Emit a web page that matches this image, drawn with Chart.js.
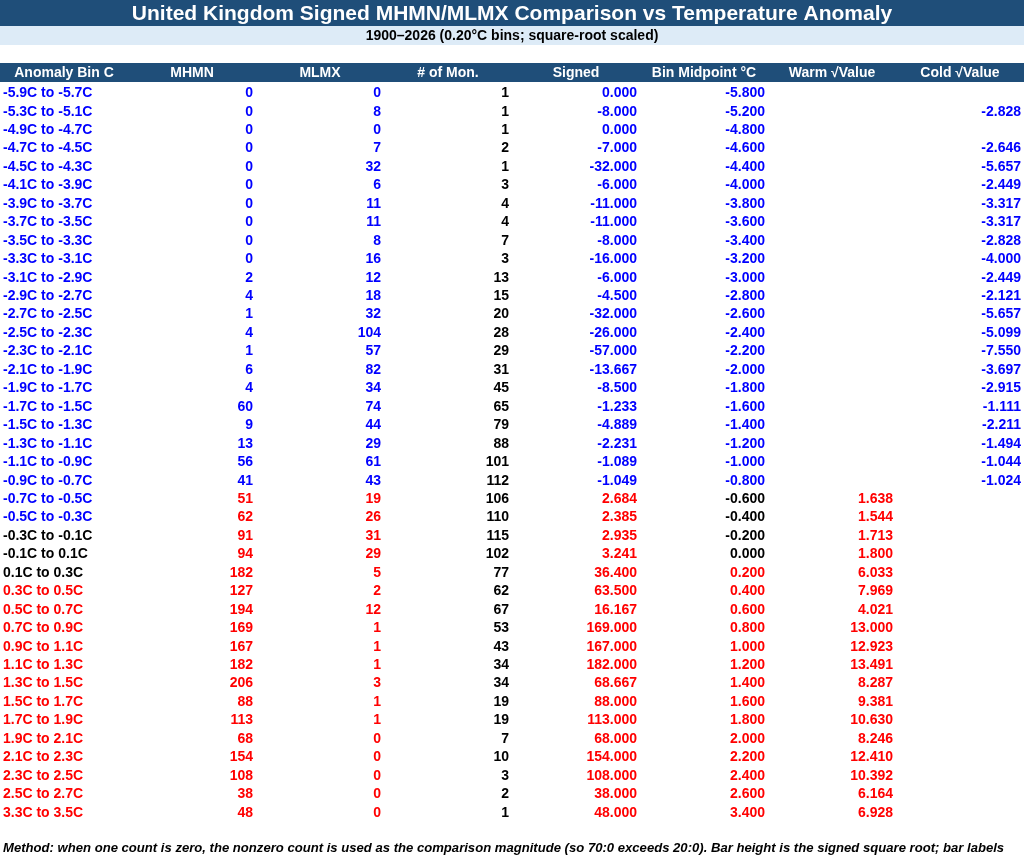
<!DOCTYPE html>
<html>
<head>
<meta charset="utf-8">
<title>United Kingdom Signed MHMN/MLMX Comparison vs Temperature Anomaly</title>
<script src="https://cdn.jsdelivr.net/npm/chart.js@4/dist/chart.umd.min.js"></script>
<style>
  html, body { margin: 0; padding: 0; background: #ffffff; }
  canvas { display: block; }
</style>
</head>
<body>
<canvas id="kt_table_chart" width="1024" height="857"></canvas>
<script>
// Table texts
var titleText = 'United Kingdom Signed MHMN/MLMX Comparison vs Temperature Anomaly';
var subtitleText = '1900\u20132026 (0.20\u00b0C bins; square-root scaled)';
var footerText = 'Method: when one count is zero, the nonzero count is used as the comparison magnitude (so 70:0 exceeds 20:0). Bar height is the signed square root; bar labels';

// Column headers
var headers = ['Anomaly Bin C', 'MHMN', 'MLMX', '# of Mon.', 'Signed', 'Bin Midpoint \u00b0C', 'Warm \u221aValue', 'Cold \u221aValue'];

// Rows (one entry per anomaly bin)
var bins = ['-5.9C to -5.7C', '-5.3C to -5.1C', '-4.9C to -4.7C', '-4.7C to -4.5C', '-4.5C to -4.3C',
  '-4.1C to -3.9C', '-3.9C to -3.7C', '-3.7C to -3.5C', '-3.5C to -3.3C', '-3.3C to -3.1C',
  '-3.1C to -2.9C', '-2.9C to -2.7C', '-2.7C to -2.5C', '-2.5C to -2.3C', '-2.3C to -2.1C',
  '-2.1C to -1.9C', '-1.9C to -1.7C', '-1.7C to -1.5C', '-1.5C to -1.3C', '-1.3C to -1.1C',
  '-1.1C to -0.9C', '-0.9C to -0.7C', '-0.7C to -0.5C', '-0.5C to -0.3C', '-0.3C to -0.1C',
  '-0.1C to 0.1C', '0.1C to 0.3C', '0.3C to 0.5C', '0.5C to 0.7C', '0.7C to 0.9C',
  '0.9C to 1.1C', '1.1C to 1.3C', '1.3C to 1.5C', '1.5C to 1.7C', '1.7C to 1.9C',
  '1.9C to 2.1C', '2.1C to 2.3C', '2.3C to 2.5C', '2.5C to 2.7C', '3.3C to 3.5C'];
var mhmn = [0, 0, 0, 0, 0, 0, 0, 0, 0, 0, 2, 4, 1, 4, 1, 6, 4, 60, 9, 13, 56, 41,
  51, 62, 91, 94, 182, 127, 194, 169, 167, 182, 206, 88, 113, 68, 154, 108, 38, 48];
var mlmx = [0, 8, 0, 7, 32, 6, 11, 11, 8, 16, 12, 18, 32, 104, 57, 82, 34, 74, 44, 29, 61, 43,
  19, 26, 31, 29, 5, 2, 12, 1, 1, 1, 3, 1, 1, 0, 0, 0, 0, 0];
var months = [1, 1, 1, 2, 1, 3, 4, 4, 7, 3, 13, 15, 20, 28, 29, 31, 45, 65, 79, 88, 101, 112,
  106, 110, 115, 102, 77, 62, 67, 53, 43, 34, 34, 19, 19, 7, 10, 3, 2, 1];
var signed = [0, -8, 0, -7, -32, -6, -11, -11, -8, -16, -6, -4.5, -32, -26, -57, -13.667, -8.5,
  -1.233, -4.889, -2.231, -1.089, -1.049, 2.684, 2.385, 2.935, 3.241, 36.4, 63.5, 16.167,
  169, 167, 182, 68.667, 88, 113, 68, 154, 108, 38, 48];
var midpoints = [-5.8, -5.2, -4.8, -4.6, -4.4, -4.0, -3.8, -3.6, -3.4, -3.2, -3.0, -2.8, -2.6,
  -2.4, -2.2, -2.0, -1.8, -1.6, -1.4, -1.2, -1.0, -0.8, -0.6, -0.4, -0.2, 0.0, 0.2, 0.4, 0.6,
  0.8, 1.0, 1.2, 1.4, 1.6, 1.8, 2.0, 2.2, 2.4, 2.6, 3.4];
var warmSqrt = [null, null, null, null, null, null, null, null, null, null, null, null, null,
  null, null, null, null, null, null, null, null, null, 1.638, 1.544, 1.713, 1.800, 6.033,
  7.969, 4.021, 13.000, 12.923, 13.491, 8.287, 9.381, 10.630, 8.246, 12.410, 10.392, 6.164, 6.928];
var coldSqrt = [null, -2.828, null, -2.646, -5.657, -2.449, -3.317, -3.317, -2.828, -4.000,
  -2.449, -2.121, -5.657, -5.099, -7.550, -3.697, -2.915, -1.111, -2.211, -1.494, -1.044,
  -1.024, null, null, null, null, null, null, null, null, null, null, null, null, null, null,
  null, null, null, null];

var KTTableChart = function () {
  // Define colors
  var bandColor = '#1f4e79';
  var subBandColor = '#ddebf7';
  var coldColor = '#0000ff';
  var warmColor = '#ff0000';
  var neutralColor = '#000000';

  // Define fonts
  var fontFamily = '"Liberation Sans", Arial, sans-serif';

  var fmt3 = function (v) {
    return v === null ? '' : v.toFixed(3);
  };

  // Colour rules, as seen in the sheet
  var signColor = function (i) {
    return signed[i] > 0 ? warmColor : coldColor;
  };
  var binColor = function (i) {
    if (midpoints[i] < -0.3) return coldColor;
    if (midpoints[i] > 0.3) return warmColor;
    return neutralColor;
  };
  var midColor = function (i) {
    if (midpoints[i] < -0.7) return coldColor;
    if (midpoints[i] > 0.1) return warmColor;
    return neutralColor;
  };

  // Each column: text getter + colour getter
  var columns = [
    { text: function (i) { return bins[i]; }, color: binColor, align: 'left' },
    { text: function (i) { return String(mhmn[i]); }, color: signColor },
    { text: function (i) { return String(mlmx[i]); }, color: signColor },
    { text: function (i) { return String(months[i]); }, color: function () { return neutralColor; } },
    { text: function (i) { return fmt3(signed[i]); }, color: signColor },
    { text: function (i) { return fmt3(midpoints[i]); }, color: midColor },
    { text: function (i) { return fmt3(warmSqrt[i]); }, color: signColor },
    { text: function (i) { return fmt3(coldSqrt[i]); }, color: signColor }
  ];

  var tablePlugin = {
    id: 'tableCells',
    afterDraw: function (chart) {
      var ctx = chart.ctx;
      var xScale = chart.scales.x;
      var yScale = chart.scales.y;
      var W = chart.width;
      var colW = (xScale.right - xScale.left) / headers.length;

      ctx.save();

      // Title band
      ctx.fillStyle = bandColor;
      ctx.fillRect(0, 0, W, 26);
      ctx.fillStyle = '#ffffff';
      ctx.font = 'bold 21px ' + fontFamily;
      ctx.textAlign = 'center';
      ctx.textBaseline = 'middle';
      ctx.fillText(titleText, W / 2, 14);

      // Subtitle band
      ctx.fillStyle = subBandColor;
      ctx.fillRect(0, 26, W, 19);
      ctx.fillStyle = neutralColor;
      ctx.font = 'bold 14px ' + fontFamily;
      ctx.fillText(subtitleText, W / 2, 36);

      // Header band
      ctx.fillStyle = bandColor;
      ctx.fillRect(0, 63, W, 19);
      ctx.fillStyle = '#ffffff';
      ctx.font = 'bold 14px ' + fontFamily;
      headers.forEach(function (h, j) {
        ctx.fillText(h, xScale.getPixelForValue(j), 73);
      });

      // Cells
      ctx.font = 'bold 14px ' + fontFamily;
      bins.forEach(function (b, i) {
        var y = yScale.getPixelForValue(i) + 1;
        columns.forEach(function (col, j) {
          var cx = xScale.getPixelForValue(j);
          ctx.fillStyle = col.color(i);
          if (col.align === 'left') {
            ctx.textAlign = 'left';
            ctx.fillText(col.text(i), cx - colW / 2 + 3, y);
          } else {
            ctx.textAlign = 'right';
            ctx.fillText(col.text(i), cx + colW / 2 - 3, y);
          }
        });
      });

      // Footer note
      ctx.fillStyle = neutralColor;
      ctx.font = 'italic bold 13.1px ' + fontFamily;
      ctx.textAlign = 'left';
      ctx.fillText(footerText, 3, 848);

      ctx.restore();
    }
  };

  var init = function () {
    var ctx = document.getElementById('kt_table_chart');

    var config = {
      type: 'line',
      data: {
        labels: headers,
        datasets: []
      },
      options: {
        responsive: false,
        animation: false,
        devicePixelRatio: 1,
        layout: {
          padding: { top: 83, bottom: 36, left: 0, right: 0 }
        },
        plugins: {
          legend: { display: false },
          title: { display: false },
          tooltip: { enabled: false }
        },
        scales: {
          x: { type: 'category', labels: headers, offset: true, display: false },
          y: { type: 'category', labels: bins, offset: true, display: false }
        }
      },
      plugins: [tablePlugin]
    };

    new Chart(ctx, config);
  };

  return { init: init };
}();

document.addEventListener('DOMContentLoaded', function () {
  KTTableChart.init();
});
</script>
</body>
</html>
